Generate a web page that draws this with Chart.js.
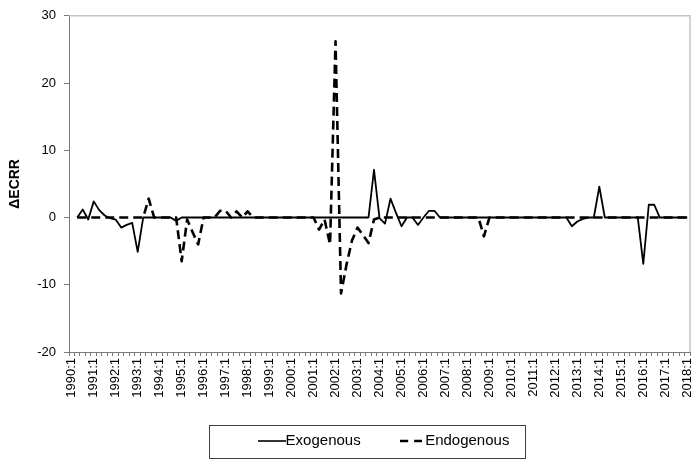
<!DOCTYPE html>
<html lang="en">
<head>
<meta charset="UTF-8">
<title>ECRR</title>
<script src="https://cdn.jsdelivr.net/npm/chart.js"></script>
<style>
    html, body { margin: 0; padding: 0; background: #fff; }
    #wrap { width: 691px; height: 464px; }
</style>
</head>
<body>
<div id="wrap"><canvas id="ecrrChart"></canvas></div>
<script>
// quarterly labels 1990:1 .. 2018:1
const firstYear = 1990;
const lastYear = 2018;
const quarters = [];
for (let y = firstYear; y <= lastYear; y++) {
    for (let q = 1; q <= 4; q++) {
        if (y === lastYear && q > 1) break;
        quarters.push(y + ':' + q);
    }
}

// first differences, so 1990:1 has no value
const exogenous = [
    null, 0, 1.2, -0.3, 2.4, 1.1, 0.3, -0.1, -0.3, -1.5,
    -1.1, -0.8, -5.1, 0, 0, 0, 0, 0, 0, -0.5,
    0, 0, 0, 0, 0, 0, 0, 0, 0, 0,
    0, 0, 0, 0, 0, 0, 0, 0, 0, 0,
    0, 0, 0, 0, 0, 0, 0, 0, 0, 0,
    0, 0, 0, 0, 0, 7.1, -0.1, -0.9, 2.8, 0.7,
    -1.3, 0, 0, -1.1, 0, 1.0, 1.0, 0, 0, 0,
    0, 0, 0, 0, 0, 0, 0, 0, 0, 0,
    0, 0, 0, 0, 0, 0, 0, 0, 0, 0,
    0, -1.3, -0.6, -0.2, 0, 0, 4.6, 0, 0, 0,
    0, 0, 0, 0, -6.9, 1.9, 1.9, 0, 0, 0,
    0, 0, 0
];

const endogenous = [
    null, 0, 0, 0, 0, 0, 0, 0, 0, 0,
    0, 0, 0, 0, 2.8, 0, 0, 0, 0, 0,
    -6.5, -0.3, -2.2, -4.0, 0, 0, 0, 1.0, 1.0, 0,
    0.9, 0, 0.9, 0, 0, 0, 0, 0, 0, 0,
    0, 0, 0, 0, 0, -1.8, -0.3, -4.0, 26.2, -11.3,
    -7.0, -3.4, -1.5, -2.6, -3.8, -0.3, 0, 0, 0, 0,
    0, 0, 0, 0, 0, 0, 0, 0, 0, 0,
    0, 0, 0, 0, 0, -2.8, 0, 0, 0, 0,
    0, 0, 0, 0, 0, 0, 0, 0, 0, 0,
    0, 0, 0, 0, 0, 0, 0, 0, 0, 0,
    0, 0, 0, 0, 0, 0, 0, 0, 0, 0,
    0, 0, 0
];

const yTicks = [-20, -10, 0, 10, 20, 30];

Chart.defaults.font.family = "'Liberation Sans', Arial, sans-serif";
Chart.defaults.color = '#000';

const legendPad = 44;

// little line pictures for the legend (solid 28px, dashed 22px)
function lineSample(w, dash, lw) {
    const cv = document.createElement('canvas');
    cv.width = w; cv.height = 6;
    const g = cv.getContext('2d');
    g.strokeStyle = '#000';
    g.lineWidth = lw;
    g.setLineDash(dash);
    g.beginPath();
    g.moveTo(0, 3); g.lineTo(w, 3);
    g.stroke();
    return cv;
}
const samples = [lineSample(28, [], 1.6), lineSample(22, [8, 6], 2.6)];

// plot area border (top/right) + box around the legend, legend moved into place
const framePlugin = {
    id: 'frame',
    afterUpdate(chart) {
        const lg = chart.legend;
        const hb = lg.legendHitBoxes;
        if (!hb || !hb.length) return;
        const last = hb[hb.length - 1];
        const mid = (hb[0].left - 7.5 + last.left + last.width) / 2;
        const dx = 383.5 - mid;
        const dy = 441 - (hb[0].top + hb[0].height / 2);
        lg.left += dx; lg.right += dx;
        lg.top += dy;
        lg.bottom = chart.height;   // legend clips to its box
        hb.forEach(h => { h.left += dx; h.top += dy; });
    },
    afterDraw(chart) {
        const c = chart.ctx;
        const a = chart.chartArea;
        c.save();
        c.strokeStyle = '#c4c4c4';
        c.lineWidth = 1.5;
        c.beginPath();
        c.moveTo(a.left, a.top);
        c.lineTo(a.right, a.top);
        c.lineTo(a.right, a.bottom);
        c.stroke();

        const hb = chart.legend.legendHitBoxes;
        const last = hb[hb.length - 1];
        const cy = hb[0].top + hb[0].height / 2;
        const x0 = Math.round(hb[0].left - 56.5) + 0.5;
        const x1 = Math.round(last.left + last.width + 16) + 0.5;
        c.strokeStyle = '#404040';
        c.lineWidth = 1;
        c.strokeRect(x0, Math.round(cy - 16.5) + 0.5, x1 - x0, 33);
        c.restore();
    }
};

const ctx = document.getElementById('ecrrChart').getContext('2d');
const ecrrChart = new Chart(ctx, {
    type: 'line',
    data: {
        labels: quarters,
        datasets: [
            {
                label: 'Exogenous',
                data: exogenous,
                borderColor: '#000',
                backgroundColor: '#000',
                borderWidth: 1.8,
                borderJoinStyle: 'round',
                pointRadius: 0,
                tension: 0,
                fill: false
            },
            {
                label: 'Endogenous',
                data: endogenous,
                borderColor: '#000',
                backgroundColor: '#000',
                borderWidth: 2.6,
                borderDash: [9, 5],
                borderJoinStyle: 'round',
                pointRadius: 0,
                tension: 0,
                fill: false
            }
        ]
    },
    options: {
        responsive: true,
        maintainAspectRatio: false,
        animation: false,
        layout: { padding: { top: 13, right: 1, left: 0, bottom: 0 } },
        plugins: {
            tooltip: { enabled: false },
            legend: {
                position: 'bottom',
                maxHeight: 50,
                labels: {
                    usePointStyle: true,
                    pointStyleWidth: 13,
                    padding: legendPad,
                    color: '#000',
                    font: { size: 15 },
                    generateLabels: chart => Chart.defaults.plugins.legend.labels.generateLabels(chart)
                        .map(l => { l.pointStyle = samples[l.datasetIndex]; return l; })
                }
            }
        },
        scales: {
            x: {
                type: 'category',
                offset: true,
                ticks: {
                    autoSkip: false,
                    minRotation: 90,
                    maxRotation: 90,
                    padding: 2,
                    color: '#000',
                    font: { size: 13 },
                    callback: (v, i) => quarters[i].endsWith(':1') ? quarters[i] : ''
                },
                grid: {
                    offset: true,
                    drawOnChartArea: false,
                    tickLength: 4,
                    color: '#7a7a7a'
                },
                border: { color: '#7a7a7a' },
                afterFit: s => { s.height = 62; s.paddingLeft = 0; s.paddingRight = 0; }
            },
            y: {
                min: yTicks[0],
                max: yTicks[yTicks.length - 1],
                afterBuildTicks: s => { s.ticks = yTicks.map(v => ({ value: v })); },
                ticks: {
                    padding: 8,
                    color: '#000',
                    font: { size: 13 }
                },
                grid: {
                    drawOnChartArea: false,
                    tickLength: 5,
                    color: '#7a7a7a'
                },
                border: { color: '#7a7a7a' },
                title: {
                    display: true,
                    text: 'ΔECRR',
                    color: '#000',
                    font: { size: 14, weight: 'bold' },
                    padding: { top: 7, bottom: 0 }
                },
                afterFit: s => { s.width = 69; }
            }
        }
    },
    plugins: [framePlugin]
});
</script>
</body>
</html>
